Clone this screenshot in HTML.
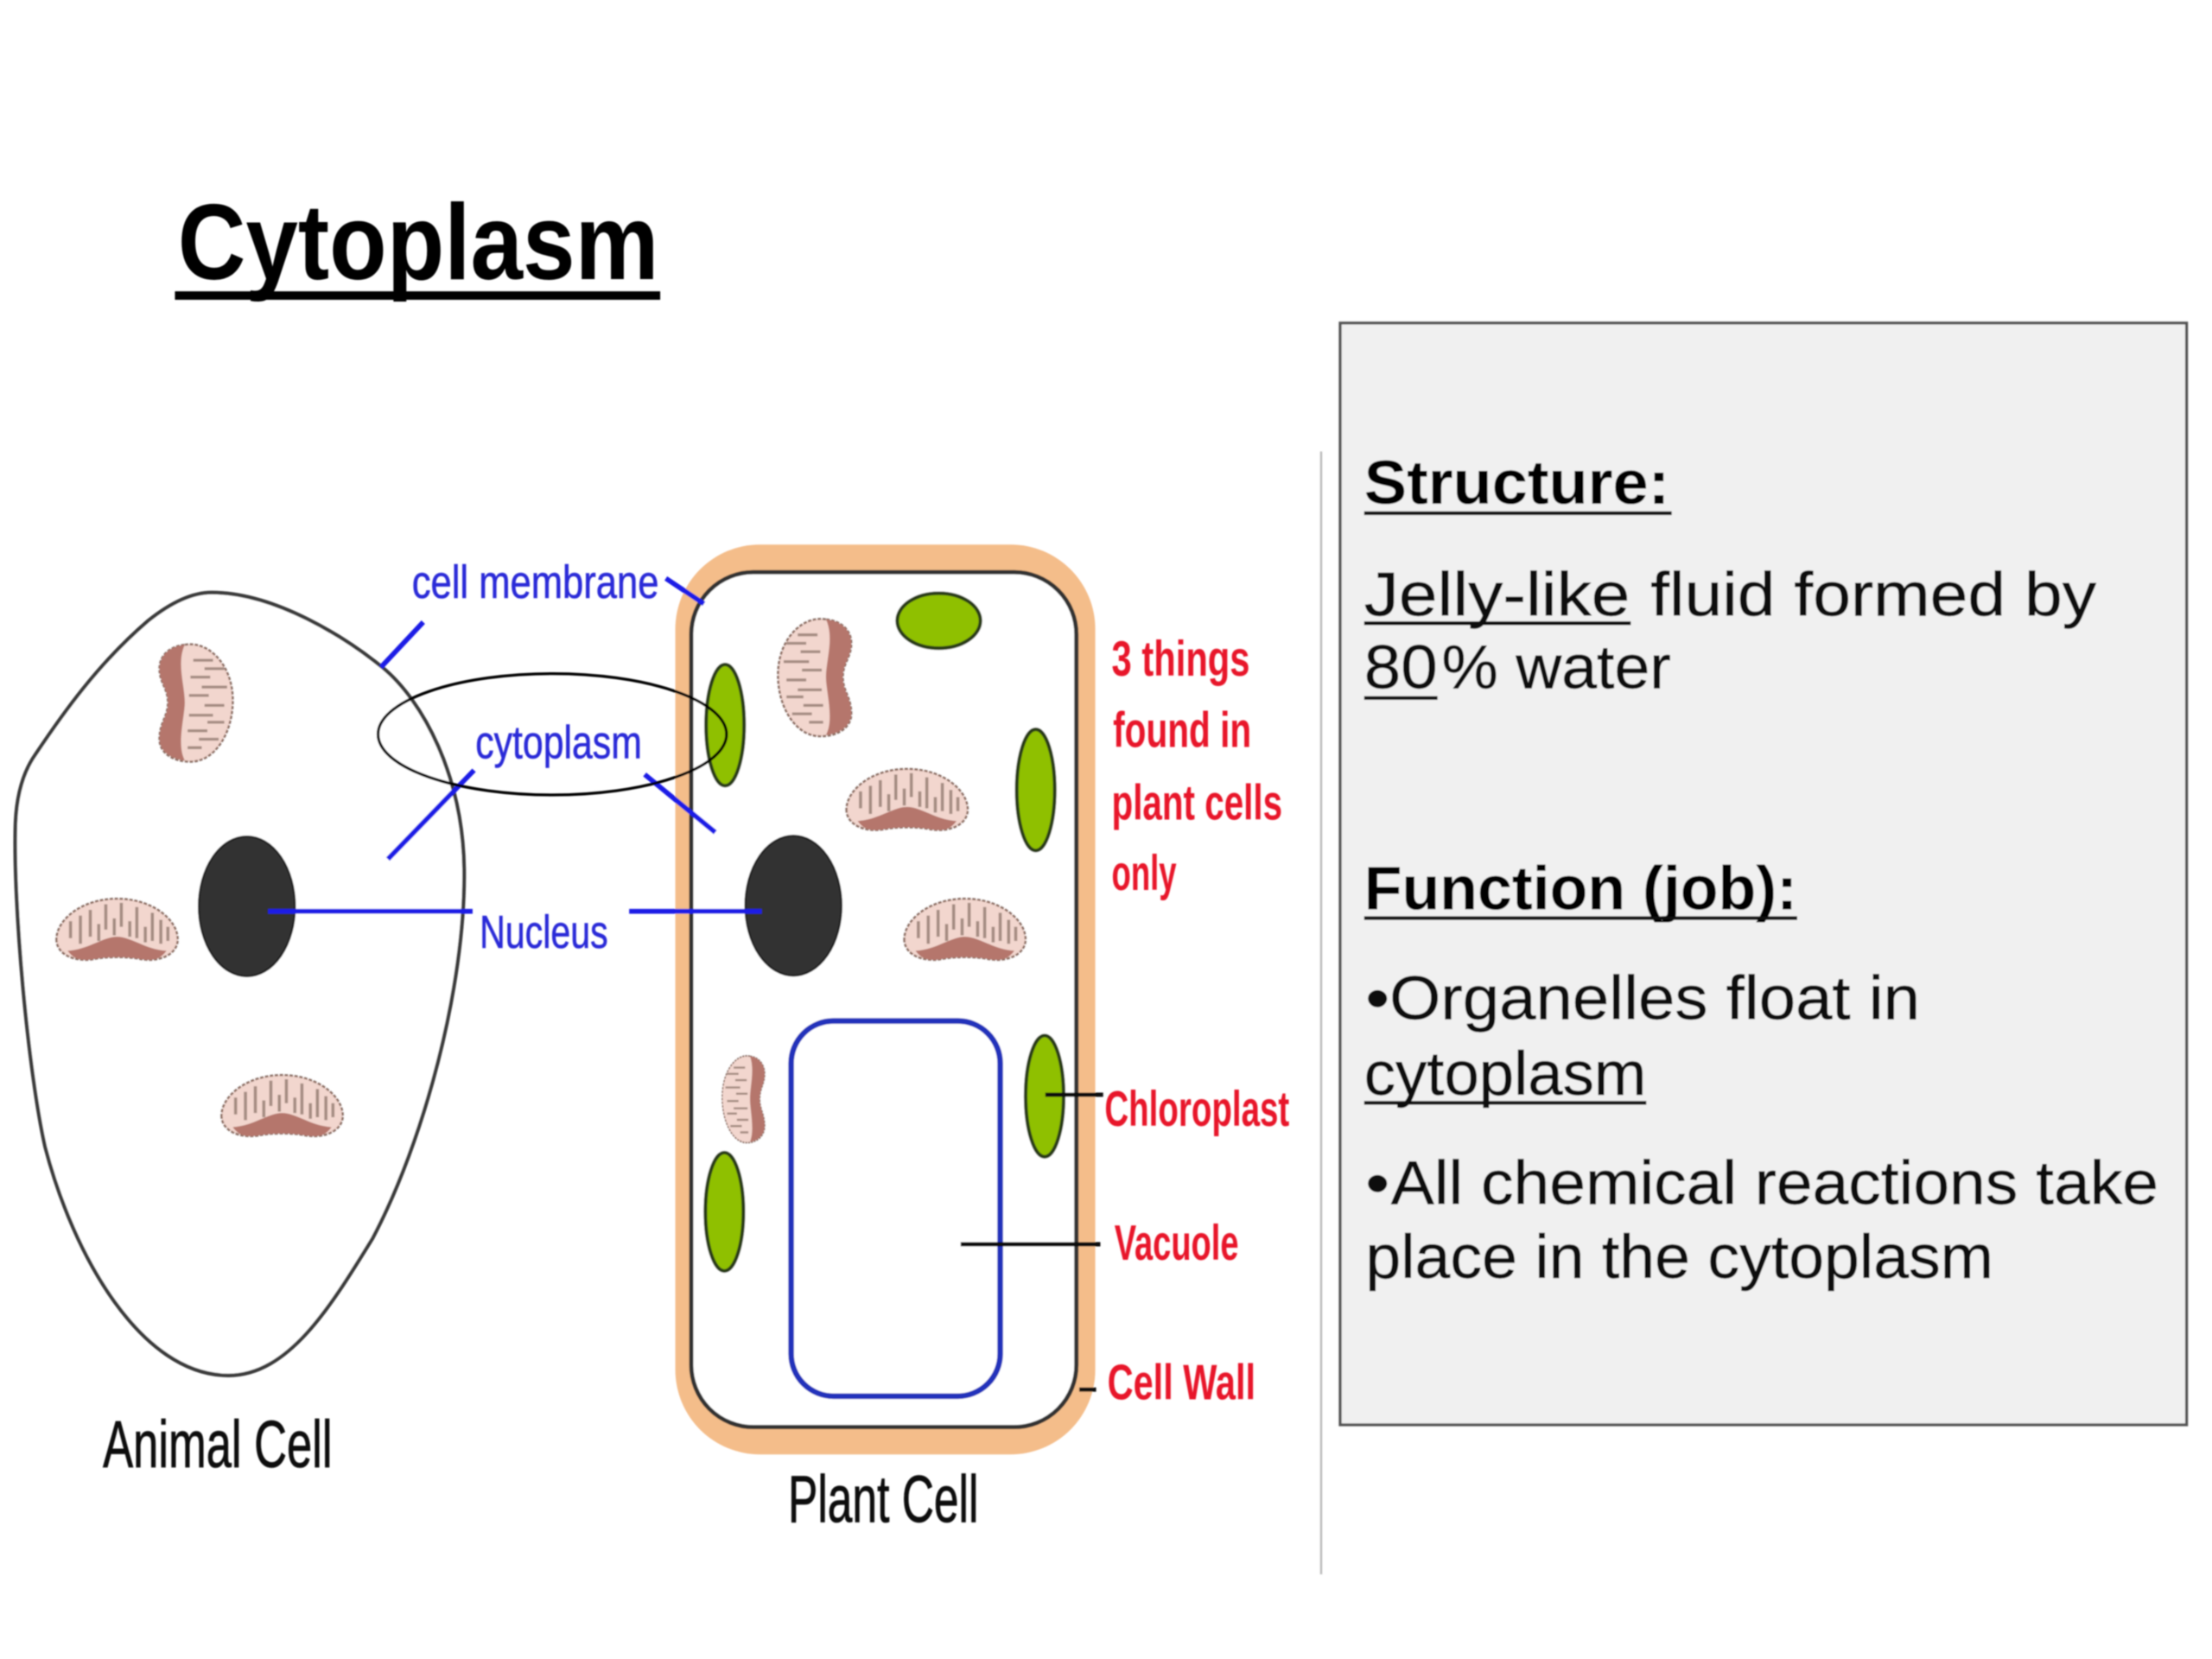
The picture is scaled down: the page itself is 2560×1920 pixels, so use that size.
<!DOCTYPE html>
<html lang="en">
<head>
<meta charset="utf-8">
<title>Cytoplasm</title>
<style>
html,body{margin:0;padding:0;background:#fff;}
svg{display:block;}
text{font-family:"Liberation Sans",sans-serif;}
.blue{fill:#2a2ad8;font-size:33px;stroke:#2a2ad8;stroke-width:.35;}
.red{fill:#e8142a;font-size:35px;font-weight:bold;}
.lab{fill:#111;font-size:47px;stroke:#111;stroke-width:.5;}
.t{fill:#0a0a0a;font-size:44px;stroke:#0a0a0a;stroke-width:.3;}
.h{fill:#000;font-size:44px;font-weight:bold;}
</style>
</head>
<body>
<svg xmlns="http://www.w3.org/2000/svg" width="2560" height="1920" viewBox="0 0 1568 1176">
<defs>
<filter id="soft" x="-5%" y="-5%" width="110%" height="110%"><feGaussianBlur stdDeviation="0.45"/></filter>
<g id="mito">
<path d="M-43,6 C-44,-8 -26,-24 0,-24 C26,-24 44,-8 43,6 C42,16 30,21 17,19 C8,17 -8,17 -17,19 C-30,21 -42,16 -43,6Z" fill="#f2d6ce" stroke="#8f6f64" stroke-width="1.6" stroke-dasharray="2.5 1"/>
<path d="M-35,13 C-20,12 -10,3 0,3 C10,3 20,12 35,13 C30,20 24,20 17,19 C8,17 -8,17 -17,19 C-24,20 -30,20 -35,13Z" fill="#b5766c"/>
<path d="M-33,-8V4 M-26,-12V8 M-19,-16V3 M-13,-6V6 M-8,-20V-2 M-2,-10V2 M3,-21V-4 M9,-8V3 M14,-18V4 M20,-4V7 M25,-14V6 M31,-9V8 M36,-4V6" fill="none" stroke="#a58c82" stroke-width="2.2"/>
</g>
<g id="mitoV">
<path d="M-8,-41 C8,-44 25,-28 26,-4 C27,20 14,42 -4,42 C-16,42 -26,36 -26,26 C-26,14 -20,10 -20,0 C-20,-10 -26,-14 -26,-24 C-26,-34 -18,-40 -8,-41Z" fill="#f2d6ce" stroke="#8f6f64" stroke-width="1.6" stroke-dasharray="2.5 1"/>
<path d="M-8,-41 C-18,-40 -26,-34 -26,-24 C-26,-14 -20,-10 -20,0 C-20,10 -26,14 -26,26 C-26,34 -18,40 -8,41 C-14,30 -8,10 -8,0 C-8,-12 -14,-28 -8,-41Z" fill="#b5766c"/>
<path d="M-2,-30H12 M6,-24H20 M-4,-18H10 M4,-11H22 M-5,-5H9 M6,2H20 M-5,9H12 M8,14H20 M-6,20H8 M2,26H16 M-6,32H4" fill="none" stroke="#a58c82" stroke-width="2"/>
</g>
</defs>

<rect width="1568" height="1176" fill="#fff"/>

<g filter="url(#soft)">
<!-- Title -->
<text x="126" y="198" font-size="76" font-weight="bold" fill="#000" textLength="341" lengthAdjust="spacingAndGlyphs">Cytoplasm</text>
<rect x="124" y="206.5" width="344" height="6" fill="#000"/>

<!-- Animal cell -->
<path d="M150,420 C195,420 245,452 271,473 C300,497 328,550 329,616 C330,700 300,810 264,878 C235,925 205,975 162,975 C100,975 52,890 32,813 C20,760 9,640 11,583 C12,560 18,545 25,535 C45,505 70,470 105,440 C120,428 135,420 150,420Z" fill="#fff" stroke="#3a3a3a" stroke-width="2.6"/>
<ellipse cx="175" cy="642.5" rx="34" ry="49.5" fill="#333" stroke="#222" stroke-width="1.5"/>
<use href="#mito" transform="translate(83,661)"/>
<use href="#mito" transform="translate(200,786)"/>
<use href="#mitoV" transform="translate(139,498)"/>

<!-- Plant cell -->
<rect x="478.7" y="386" width="297.7" height="645" rx="60" ry="60" fill="#f4bd8a"/>
<rect x="490" y="405.6" width="273" height="606" rx="44" ry="44" fill="#fff" stroke="#333" stroke-width="3"/>
<rect x="560.8" y="723.7" width="148.2" height="266" rx="30" ry="30" fill="#fff" stroke="#2233bb" stroke-width="4"/>
<ellipse cx="562.4" cy="642" rx="34" ry="49.5" fill="#333" stroke="#222" stroke-width="1.5"/>
<g fill="#8fc000" stroke="#2c3c12" stroke-width="2.5">
<ellipse cx="514" cy="514" rx="13.5" ry="43"/>
<ellipse cx="665.5" cy="440" rx="29.5" ry="19.5"/>
<ellipse cx="734.2" cy="560" rx="13.5" ry="43"/>
<ellipse cx="740.5" cy="777" rx="13.5" ry="43"/>
<ellipse cx="513.5" cy="859" rx="13.5" ry="42"/>
</g>
<use href="#mito" transform="translate(643,569)"/>
<use href="#mito" transform="translate(684,661)"/>
<use href="#mitoV" transform="translate(577.5,480) scale(-1,1)"/>
<use href="#mitoV" transform="translate(527,779) scale(-.58,.74)"/>

<!-- Blue connectors -->
<g stroke="#1a1ae6" stroke-width="3.5" fill="none">
<line x1="270" y1="473" x2="300" y2="441"/>
<line x1="472" y1="410" x2="499" y2="428"/>
<line x1="275" y1="609" x2="336" y2="546"/>
<line x1="457" y1="549" x2="507" y2="590"/>
<line x1="190" y1="646" x2="335" y2="646"/>
<line x1="446" y1="646" x2="540" y2="646"/>
</g>

<!-- Highlight ellipse -->
<ellipse cx="391.5" cy="520.5" rx="123.5" ry="43" fill="none" stroke="#000" stroke-width="2"/>

<!-- Black connectors -->
<g stroke="#111" stroke-width="3" fill="none">
<line x1="741" y1="776" x2="782" y2="776"/>
<line x1="681" y1="882" x2="780" y2="882"/>
<line x1="765" y1="985" x2="777" y2="985"/>
</g>

<!-- Blue labels -->
<text class="blue" x="292" y="424" textLength="175" lengthAdjust="spacingAndGlyphs">cell membrane</text>
<text class="blue" x="337" y="537.5" textLength="118" lengthAdjust="spacingAndGlyphs">cytoplasm</text>
<text class="blue" x="340" y="672" textLength="91" lengthAdjust="spacingAndGlyphs">Nucleus</text>

<!-- Red labels -->
<text class="red" x="788" y="479" textLength="98" lengthAdjust="spacingAndGlyphs">3 things</text>
<text class="red" x="789" y="529.5" textLength="98" lengthAdjust="spacingAndGlyphs">found in</text>
<text class="red" x="788" y="581" textLength="121" lengthAdjust="spacingAndGlyphs">plant cells</text>
<text class="red" x="788" y="631" textLength="46" lengthAdjust="spacingAndGlyphs">only</text>
<text class="red" x="783" y="798" textLength="131" lengthAdjust="spacingAndGlyphs">Chloroplast</text>
<text class="red" x="790" y="893" textLength="88" lengthAdjust="spacingAndGlyphs">Vacuole</text>
<text class="red" x="785" y="992" textLength="105" lengthAdjust="spacingAndGlyphs">Cell Wall</text>

<!-- Cell names -->
<text class="lab" x="73" y="1040" textLength="162.5" lengthAdjust="spacingAndGlyphs">Animal Cell</text>
<text class="lab" x="558.6" y="1079" textLength="135" lengthAdjust="spacingAndGlyphs">Plant Cell</text>

<!-- Divider and panel -->
<line x1="936.5" y1="320" x2="936.5" y2="1116" stroke="#bbb" stroke-width="1.5"/>
<rect x="950" y="229" width="600" height="781" fill="#f0f0f0" stroke="#555" stroke-width="2"/>

<text class="h" x="967" y="357" textLength="216.5" lengthAdjust="spacingAndGlyphs">Structure:</text>
<rect x="967" y="362.5" width="218" height="2.6" fill="#111"/>

<text class="t" x="967" y="436.5" textLength="188.4" lengthAdjust="spacingAndGlyphs">Jelly-like</text>
<text class="t" x="1170" y="436.5" textLength="316" lengthAdjust="spacingAndGlyphs">fluid formed by</text>
<rect x="967" y="440.5" width="189" height="2.6" fill="#111"/>

<text class="t" x="967" y="488" textLength="52" lengthAdjust="spacingAndGlyphs">80</text>
<text class="t" x="1022" y="488" textLength="162.4" lengthAdjust="spacingAndGlyphs">% water</text>
<rect x="967" y="493.5" width="52" height="2.6" fill="#111"/>

<text class="h" x="967" y="644.7" textLength="307" lengthAdjust="spacingAndGlyphs">Function (job):</text>
<rect x="967" y="649.5" width="307" height="2.6" fill="#111"/>

<text class="t" x="968" y="722.5" textLength="17" lengthAdjust="spacingAndGlyphs">•</text>
<text class="t" x="985" y="722.5" textLength="376" lengthAdjust="spacingAndGlyphs">Organelles float in</text>
<text class="t" x="967" y="776" textLength="200" lengthAdjust="spacingAndGlyphs">cytoplasm</text>
<rect x="967" y="780.5" width="200" height="2.6" fill="#111"/>

<text class="t" x="968" y="853.5" textLength="17" lengthAdjust="spacingAndGlyphs">•</text>
<text class="t" x="986" y="853.5" textLength="544" lengthAdjust="spacingAndGlyphs">All chemical reactions take</text>
<text class="t" x="968" y="906" textLength="445" lengthAdjust="spacingAndGlyphs">place in the cytoplasm</text>
</g>
</svg>
</body>
</html>
